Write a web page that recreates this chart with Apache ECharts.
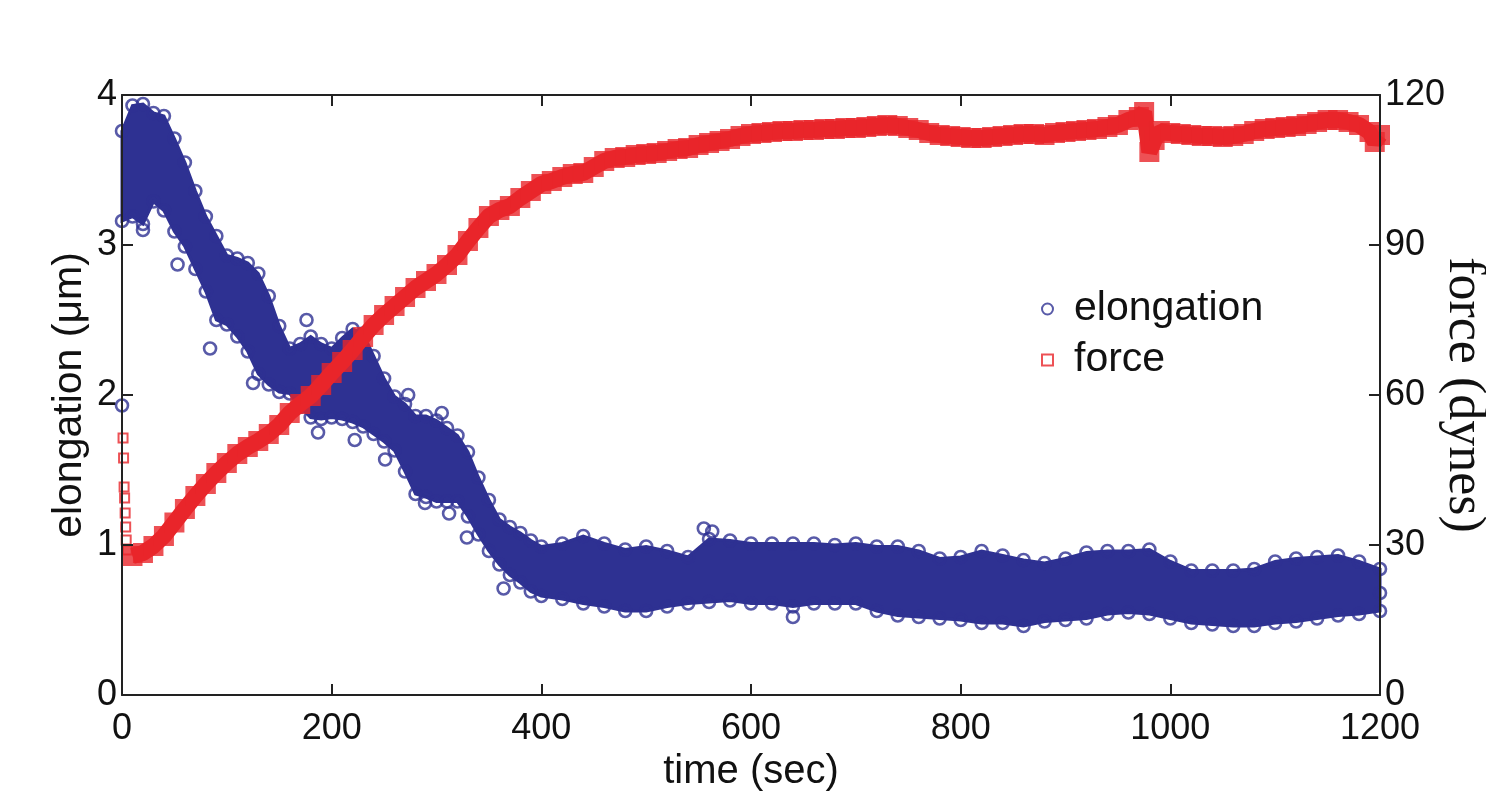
<!DOCTYPE html>
<html>
<head>
<meta charset="utf-8">
<script src="https://cdn.jsdelivr.net/npm/echarts@6/dist/echarts.min.js"></script>
<style>
html,body{margin:0;padding:0;background:#fff;}
#chart{width:1486px;height:793px;}
</style>
</head>
<body>
<div id="chart"></div>
<script>
// ---- data ----
const xTicks = [0, 200, 400, 600, 800, 1000, 1200];
const elongTicks = [0, 1, 2, 3, 4];
const forceTicks = [0, 30, 60, 90, 120];

// elongation band: upper / lower envelope of the point cloud (µm)
const elongT = [0,10,20,30,40,50,60,70,80,90,100,110,120,130,140,150,160,170,180,190,200,
  210,220,230,240,250,260,270,280,290,300,310,320,330,340,350,360,370,380,390,400,
  420,440,460,480,500,520,540,560,580,600,620,640,660,680,700,720,740,760,780,800,
  820,840,860,880,900,920,940,960,980,1000,1020,1040,1060,1080,1100,1120,1140,1160,1180,1200];
const elongHigh = [3.76,3.93,3.94,3.88,3.86,3.71,3.55,3.36,3.19,3.06,2.93,2.91,2.88,2.81,2.66,2.46,2.31,2.34,2.39,2.34,2.31,
  2.38,2.44,2.41,2.26,2.11,1.99,1.94,1.86,1.86,1.83,1.78,1.73,1.62,1.45,1.30,1.17,1.12,1.08,1.03,0.99,
  1.01,1.06,1.01,0.97,0.99,0.96,0.92,1.04,1.03,1.01,1.01,1.01,1.01,1.00,1.01,0.99,0.99,0.96,0.91,0.92,
  0.96,0.93,0.90,0.88,0.91,0.95,0.96,0.96,0.97,0.89,0.83,0.83,0.83,0.84,0.89,0.91,0.92,0.93,0.89,0.84];
const elongLow = [3.16,3.19,3.14,3.29,3.23,3.09,2.99,2.84,2.69,2.50,2.47,2.39,2.29,2.14,2.07,2.02,2.01,1.92,1.85,1.84,1.85,
  1.84,1.82,1.79,1.74,1.69,1.63,1.49,1.34,1.32,1.29,1.29,1.29,1.19,1.07,0.96,0.87,0.80,0.75,0.69,0.66,
  0.64,0.61,0.59,0.56,0.56,0.59,0.61,0.62,0.63,0.61,0.61,0.59,0.61,0.61,0.61,0.56,0.53,0.52,0.51,0.50,
  0.48,0.48,0.46,0.49,0.50,0.51,0.54,0.55,0.54,0.51,0.48,0.47,0.46,0.46,0.48,0.49,0.51,0.53,0.54,0.56];
// isolated elongation points outside the band
const outlierT = [0,20,53,84,125,176,187,222,251,273,289,305,312,329,364,555,563,640,1200];
const outlierV = [1.93,3.10,2.87,2.31,2.08,2.50,1.75,1.70,1.57,2.00,1.28,1.88,1.21,1.05,0.71,1.11,1.09,0.52,0.68];

// force (dynes)
const forceStartT = [1,1.5,2,2.5,3,3.5,4,5];
const forceStartV = [51.4,47.4,41.6,39.4,36.4,33.6,31,29];
const forceT = [10,20,30,40,50,60,70,80,90,100,110,120,130,140,150,160,170,180,190,200,
  210,220,230,240,250,260,270,280,290,300,310,320,330,340,350,360,370,380,390,400,
  410,420,430,440,450,460,470,480,490,500,510,520,530,540,550,560,570,580,590,600,
  610,620,630,640,650,660,670,680,690,700,710,720,730,740,750,760,770,780,790,800,
  810,820,830,840,850,860,870,880,890,900,910,920,930,940,950,960,970,975,980,985,990,
  1000,1010,1020,1030,1040,1050,1060,1070,1080,1090,1100,1110,1120,1130,1140,1150,1160,1170,1180,1190,1195,1200];
const forceV = [27.8,28.4,29.8,31.8,34.5,37.2,39.8,42.2,44.4,46.4,48.2,49.6,50.8,52.2,54,56.4,58.2,59.8,62,64.4,
  66.6,69,71.6,74,76,77.8,79.6,81.4,82.8,84.2,86,88,90.8,93.4,95.8,97,97.8,99.4,100.8,102.2,
  102.8,103.6,104.2,104.4,105.6,106.8,107.4,107.6,108,108.2,108.4,108.8,109.2,109.4,110,110.4,110.8,111.2,111.8,112.2,
  112.4,112.6,112.8,112.8,113,113,113.2,113.2,113.4,113.4,113.6,113.8,114,113.8,113.4,113,112.4,112,111.8,111.6,
  111.4,111.4,111.6,111.8,112,112.2,112.2,112,112.4,112.6,112.8,113,113.2,113.6,114,115,115.6,116.6,108.6,111,112.8,
  112.4,112.2,112,111.8,111.8,111.6,111.8,112.2,112.8,113.2,113.4,113.6,113.8,114.2,114.6,115,115,114.6,114,112.6,110.6,112];

// ---- chart ----
const BLUE = '#2e3192';
const RED = '#e8262a';
const SANS = '"Liberation Sans", Arial, Helvetica, sans-serif';
const SERIF = '"Liberation Serif", "Times New Roman", serif';

const elongPts = elongT.map((t, i) => [t, elongHigh[i]])
  .concat(elongT.map((t, i) => [t, elongLow[i]]))
  .concat(outlierT.map((t, i) => [t, outlierV[i]]));
const forcePts = forceT.map((t, i) => [t, forceV[i]]);
const forceStartPts = forceStartT.map((t, i) => [t, forceStartV[i]]);

const axisLine = { show: true, onZero: false, lineStyle: { color: '#222', width: 2 } };
const tickStyle = { show: true, inside: true, length: 11, lineStyle: { color: '#222', width: 2 } };

const chart = echarts.init(document.getElementById('chart'), null, { renderer: 'canvas' });
chart.setOption({
  animation: false,
  backgroundColor: '#fff',
  grid: { left: 122, right: 106, top: 95, bottom: 98, containLabel: false, outerBoundsMode: 'none' },
  legend: {
    orient: 'vertical',
    left: 1036,
    top: 283,
    itemWidth: 11,
    itemHeight: 11,
    itemGap: 9,
    textStyle: { fontFamily: SANS, fontSize: 41, color: '#111', lineHeight: 42, padding: [0, 0, 0, 16] },
    data: [
      { name: 'elongation', icon: 'circle' },
      { name: 'force', icon: 'rect' }
    ]
  },
  xAxis: [
    {
      type: 'value', position: 'bottom', min: 0, max: 1200, interval: 200, z: 10,
      axisLine: axisLine, axisTick: tickStyle, splitLine: { show: false },
      axisLabel: { fontFamily: SANS, fontSize: 36, color: '#111', margin: 16,
        formatter: v => xTicks.includes(v) ? String(v) : '' },
      name: 'time (sec)', nameLocation: 'middle', nameGap: 57, nameMoveOverlap: false,
      nameTextStyle: { fontFamily: SANS, fontSize: 40, color: '#111' }
    },
    {
      type: 'value', position: 'top', min: 0, max: 1200, interval: 200, z: 10,
      axisLine: axisLine, axisTick: tickStyle, splitLine: { show: false },
      axisLabel: { show: false }
    }
  ],
  yAxis: [
    {
      type: 'value', position: 'left', min: 0, max: 4, interval: 1, z: 10,
      axisLine: axisLine, axisTick: tickStyle, splitLine: { show: false },
      axisLabel: { fontFamily: SANS, fontSize: 36, color: '#111', margin: 5,
        formatter: v => elongTicks.includes(v) ? String(v) : '' },
      name: 'elongation (μm)', nameLocation: 'middle', nameGap: 32, nameMoveOverlap: false,
      nameTextStyle: { fontFamily: SANS, fontSize: 41, color: '#111' }
    },
    {
      type: 'value', position: 'right', min: 0, max: 120, interval: 30, z: 10,
      axisLine: axisLine, axisTick: tickStyle, splitLine: { show: false },
      axisLabel: { fontFamily: SANS, fontSize: 36, color: '#111', margin: 5,
        formatter: v => forceTicks.includes(v) ? String(v) : '' },
      name: 'force (dynes)', nameLocation: 'middle', nameGap: 58, nameRotate: -90, nameMoveOverlap: false,
      nameTextStyle: { fontFamily: SERIF, fontSize: 52, color: '#111' }
    }
  ],
  series: [
    {
      name: 'elongBand', type: 'custom', xAxisIndex: 0, yAxisIndex: 0,
      data: [[600, 2]], encode: { x: 0, y: 1 }, silent: true, z: 1,
      renderItem: function (params, api) {
        const pts = [];
        for (let i = 0; i < elongT.length; i++) pts.push(api.coord([elongT[i], elongHigh[i]]));
        for (let i = elongT.length - 1; i >= 0; i--) pts.push(api.coord([elongT[i], elongLow[i]]));
        return { type: 'polygon', shape: { points: pts },
          style: { fill: BLUE, stroke: BLUE, lineWidth: 3 } };
      }
    },
    {
      name: 'elongation', type: 'scatter', xAxisIndex: 0, yAxisIndex: 0,
      data: elongPts, symbol: 'circle', symbolSize: 12,
      itemStyle: { color: 'rgba(255,255,255,0)', borderColor: BLUE, borderWidth: 2.6 }, z: 2
    },
    {
      name: 'force', type: 'scatter', xAxisIndex: 0, yAxisIndex: 1,
      data: forceStartPts, symbol: 'rect', symbolSize: 9,
      itemStyle: { color: 'rgba(255,255,255,0)', borderColor: RED, borderWidth: 2 }, z: 4
    },
    {
      name: 'forceTrace', type: 'line', xAxisIndex: 0, yAxisIndex: 1,
      data: forcePts, symbol: 'none', silent: true,
      lineStyle: { color: RED, width: 16 }, z: 3
    },
    {
      name: 'force', type: 'scatter', xAxisIndex: 0, yAxisIndex: 1,
      data: forcePts, symbol: 'rect', symbolSize: 20,
      itemStyle: { color: RED, borderWidth: 0 }, z: 3
    }
  ]
});
</script>
</body>
</html>
